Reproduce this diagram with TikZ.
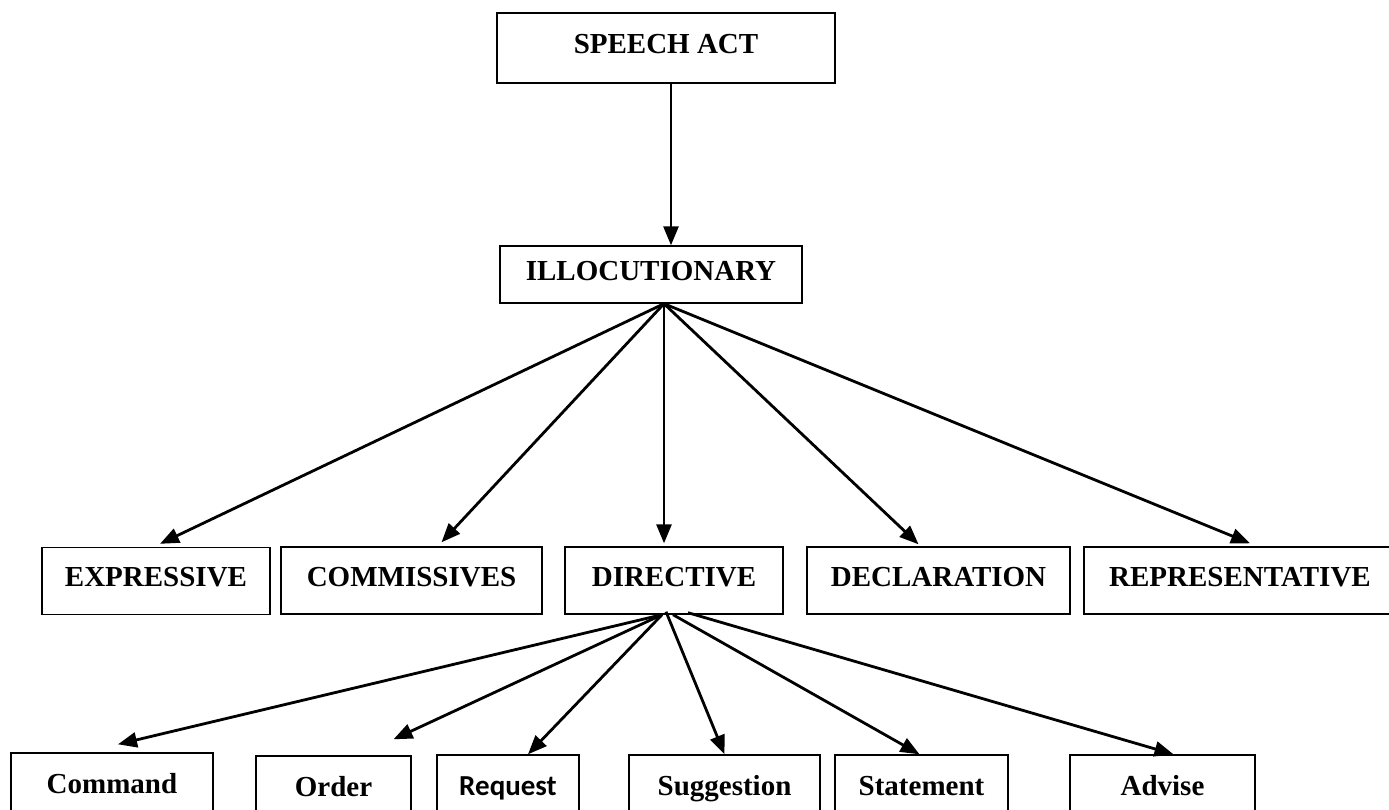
\documentclass[tikz,border=0pt]{standalone}
\usepackage{fontspec}
\setmainfont{Liberation Serif}
\newfontfamily\calibri{Carlito}
\usetikzlibrary{arrows.meta}
\begin{document}
\begin{tikzpicture}[x=1pt,y=-1pt,
  box/.style={draw, line width=1.4pt, inner sep=0pt, text height=20pt, text depth=9pt,
    font=\fontsize{29}{34}\selectfont\bfseries},
  arr/.style={-{Triangle[length=19pt,width=15pt]}, line width=2.8pt}]
\useasboundingbox (0,0) rectangle (1389,809);
% top
\node[box, minimum width=338pt, minimum height=70pt] (speech) at (666,48) {SPEECH ACT};
\node[box, minimum width=302pt, minimum height=57pt] (ill) at (651,274.5) {ILLOCUTIONARY};
% middle row
\node[box, minimum width=228pt, minimum height=67pt] (expr) at (156,581) {EXPRESSIVE};
\node[box, minimum width=261pt, minimum height=67pt] (comm) at (411.5,580.5) {COMMISSIVES};
\node[box, minimum width=218pt, minimum height=67pt] (dir) at (674,580.5) {DIRECTIVE};
\node[box, minimum width=263pt, minimum height=67pt] (decl) at (938.5,580.5) {DECLARATION};
\node[box, minimum width=312pt, minimum height=67pt] (repr) at (1240,580.5) {REPRESENTATIVE};
% bottom row
\node[box, minimum width=202pt, minimum height=70pt] (command) at (112,788) {Command\hspace{28pt}};
\node[box, minimum width=155pt, minimum height=70pt] (order) at (333.5,791) {Order};
\node[box, minimum width=142pt, minimum height=70pt, font=\fontsize{29}{34}\selectfont\calibri\bfseries] (request) at (508,790) {Request};
\node[box, minimum width=191pt, minimum height=70pt] (sugg) at (724.5,790) {Suggestion\hspace{16pt}};
\node[box, minimum width=173pt, minimum height=70pt] (stat) at (921.5,790) {Statement};
\node[box, minimum width=185pt, minimum height=70pt] (adv) at (1162.5,790) {Advise};
% connectors
\draw[arr] ([xshift=5pt]speech.south) -- ([xshift=20pt]ill.north);
\draw[arr] ([xshift=13pt]ill.south) -- ([xshift=4pt,yshift=3pt]expr.north);
\draw[arr] ([xshift=13pt]ill.south) -- ([xshift=30pt,yshift=4pt]comm.north);
\draw[arr] ([xshift=13pt]ill.south) -- ([xshift=-10pt,yshift=3pt]dir.north);
\draw[arr] ([xshift=13pt]ill.south) -- ([xshift=-20pt,yshift=2pt]decl.north);
\draw[arr] ([xshift=13pt]ill.south) -- ([xshift=10pt,yshift=3pt]repr.north);
\draw[arr] ([xshift=-12pt]dir.south) -- ([xshift=6pt,yshift=8pt]command.north);
\draw[arr] ([xshift=-12pt]dir.south) -- ([xshift=60pt,yshift=16pt]order.north);
\draw[arr] ([xshift=-12pt]dir.south) -- ([xshift=20pt]request.north);
\draw[arr] ([xshift=-8pt,yshift=3pt]dir.south) -- ([xshift=0pt]sugg.north);
\draw[arr] ([xshift=-1pt]dir.south) -- ([xshift=-2pt]stat.north);
\draw[arr] ([xshift=14pt,yshift=2pt]dir.south) -- ([xshift=11pt]adv.north);
\end{tikzpicture}
\end{document}
